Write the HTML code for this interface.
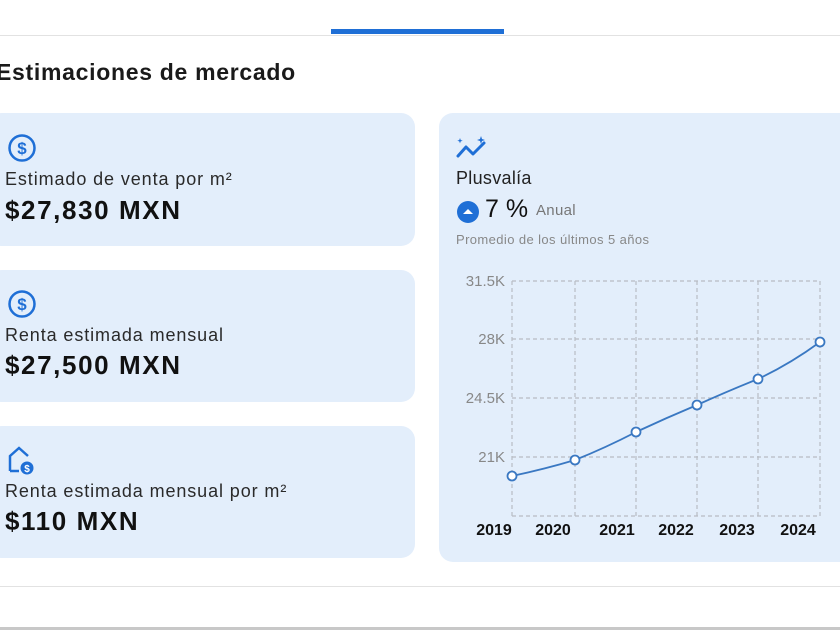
<!DOCTYPE html>
<html><head><meta charset="utf-8"><style>
*{margin:0;padding:0;box-sizing:border-box}
body{width:840px;height:630px;overflow:hidden;background:#fff;position:relative;font-family:"Liberation Sans","DejaVu Sans",sans-serif;color:#1a1a1a}
.a{position:absolute}
.card{position:absolute;left:-12px;width:427px;background:#e3eefb;border-radius:14px}
.lbl{position:absolute;left:17px;font-size:18px;color:#2a2a2a;letter-spacing:0.9px;white-space:nowrap}
.val{position:absolute;left:17px;font-size:26px;font-weight:bold;color:#111;letter-spacing:1.6px;white-space:nowrap}
</style></head><body>
<div class="a" style="left:0;top:35px;width:840px;height:1px;background:#e2e2e2"></div>
<div class="a" style="left:331px;top:29px;width:173px;height:5px;background:#1f6fd6"></div>
<div class="a" style="left:-4px;top:59px;font-size:23px;font-weight:bold;color:#1a1a1a;letter-spacing:0.7px;white-space:nowrap">Estimaciones de mercado</div>

<div class="card" style="top:113px;height:133px">
<svg class="a" style="left:19px;top:20px" width="30" height="30" viewBox="0 0 30 30"><circle cx="15" cy="15" r="12.5" fill="none" stroke="#1f6fd6" stroke-width="2.5"/><text x="15" y="21" text-anchor="middle" font-size="17" font-weight="bold" fill="#1f6fd6" font-family="Liberation Sans">$</text></svg>
<div class="lbl" style="top:56px">Estimado de venta por m²</div>
<div class="val" style="top:82px">$27,830 MXN</div>
</div>
<div class="card" style="top:270px;height:132px">
<svg class="a" style="left:19px;top:19px" width="30" height="30" viewBox="0 0 30 30"><circle cx="15" cy="15" r="12.5" fill="none" stroke="#1f6fd6" stroke-width="2.5"/><text x="15" y="21" text-anchor="middle" font-size="17" font-weight="bold" fill="#1f6fd6" font-family="Liberation Sans">$</text></svg>
<div class="lbl" style="top:55px">Renta estimada mensual</div>
<div class="val" style="top:80px">$27,500 MXN</div>
</div>
<div class="card" style="top:426px;height:132px">
<svg class="a" style="left:19px;top:18px" width="30" height="32" viewBox="0 0 30 32"><path d="M3 27 V12 L12 4 L21 12" fill="none" stroke="#1f6fd6" stroke-width="2.5"/><path d="M3 27 H12" stroke="#1f6fd6" stroke-width="2.5"/><circle cx="20" cy="24" r="6.5" fill="#1f6fd6"/><text x="20" y="28" text-anchor="middle" font-size="10" font-weight="bold" fill="#fff" font-family="Liberation Sans">$</text></svg>
<div class="lbl" style="top:55px">Renta estimada mensual por m²</div>
<div class="val" style="top:80px">$110 MXN</div>
</div>

<div class="a" style="left:439px;top:113px;width:420px;height:449px;background:#e3eefb;border-radius:14px"></div>
<svg class="a" style="left:455px;top:134px" width="36" height="28" viewBox="0 0 36 28"><path d="M3 22 L11 13 L18 20 L29 9" fill="none" stroke="#1f6fd6" stroke-width="3" stroke-linecap="round" stroke-linejoin="round"/><path d="M26 2 l1 3 3 1 -3 1 -1 3 -1 -3 -3 -1 3 -1z" fill="#1f6fd6"/><path d="M5 4 l.7 2 2 .7 -2 .7 -.7 2 -.7 -2 -2 -.7 2 -.7z" fill="#1f6fd6"/></svg>
<div class="a" style="left:456px;top:168px;font-size:18px;color:#222;letter-spacing:0.3px">Plusvalía</div>
<svg class="a" style="left:456px;top:200px" width="24" height="24"><circle cx="12" cy="12" r="11" fill="#1f6fd6"/><path d="M7 14 L12 9 L17 14Z" fill="#fff"/></svg>
<div class="a" style="left:485px;top:195px;font-size:25px;color:#111">7 %</div>
<div class="a" style="left:536px;top:202px;font-size:15px;color:#777;letter-spacing:0.3px">Anual</div>
<div class="a" style="left:456px;top:232px;font-size:13px;color:#888;letter-spacing:0.4px;white-space:nowrap">Promedio de los últimos 5 años</div>

<svg class="a" style="left:0;top:0" width="840" height="630">
<g stroke="#b8bcc4" stroke-width="1.2" stroke-dasharray="4,3" fill="none">
<line x1="512" y1="281" x2="820" y2="281"/><line x1="512" y1="339" x2="820" y2="339"/><line x1="512" y1="398" x2="820" y2="398"/><line x1="512" y1="457" x2="820" y2="457"/><line x1="512" y1="516" x2="820" y2="516"/>
<line x1="512" y1="281" x2="512" y2="516"/><line x1="575" y1="281" x2="575" y2="516"/><line x1="636" y1="281" x2="636" y2="516"/><line x1="697" y1="281" x2="697" y2="516"/><line x1="758" y1="281" x2="758" y2="516"/><line x1="820" y1="281" x2="820" y2="516"/>
</g>
<g font-family="Liberation Sans" font-size="15" fill="#888" text-anchor="end">
<text x="505" y="286">31.5K</text><text x="505" y="344">28K</text><text x="505" y="403">24.5K</text><text x="505" y="462">21K</text>
</g>
<path d="M512 476 Q545 469 575 460 Q605 448 636 432 Q666 418 697 405 Q728 391 758 379 Q790 364 820 342" fill="none" stroke="#3a78c2" stroke-width="1.8"/>
<g fill="#fff" stroke="#3a78c2" stroke-width="1.8">
<circle cx="512" cy="476" r="4.5"/><circle cx="575" cy="460" r="4.5"/><circle cx="636" cy="432" r="4.5"/><circle cx="697" cy="405" r="4.5"/><circle cx="758" cy="379" r="4.5"/><circle cx="820" cy="342" r="4.5"/>
</g>
<g font-family="Liberation Sans" font-size="16" font-weight="bold" fill="#111" text-anchor="middle">
<text x="494" y="535">2019</text><text x="553" y="535">2020</text><text x="617" y="535">2021</text><text x="676" y="535">2022</text><text x="737" y="535">2023</text><text x="798" y="535">2024</text>
</g>
</svg>
<div class="a" style="left:0;top:586px;width:840px;height:1px;background:#e2e2e2"></div>
<div class="a" style="left:0;top:627px;width:840px;height:3px;background:#c8c8c8"></div>
</body></html>
